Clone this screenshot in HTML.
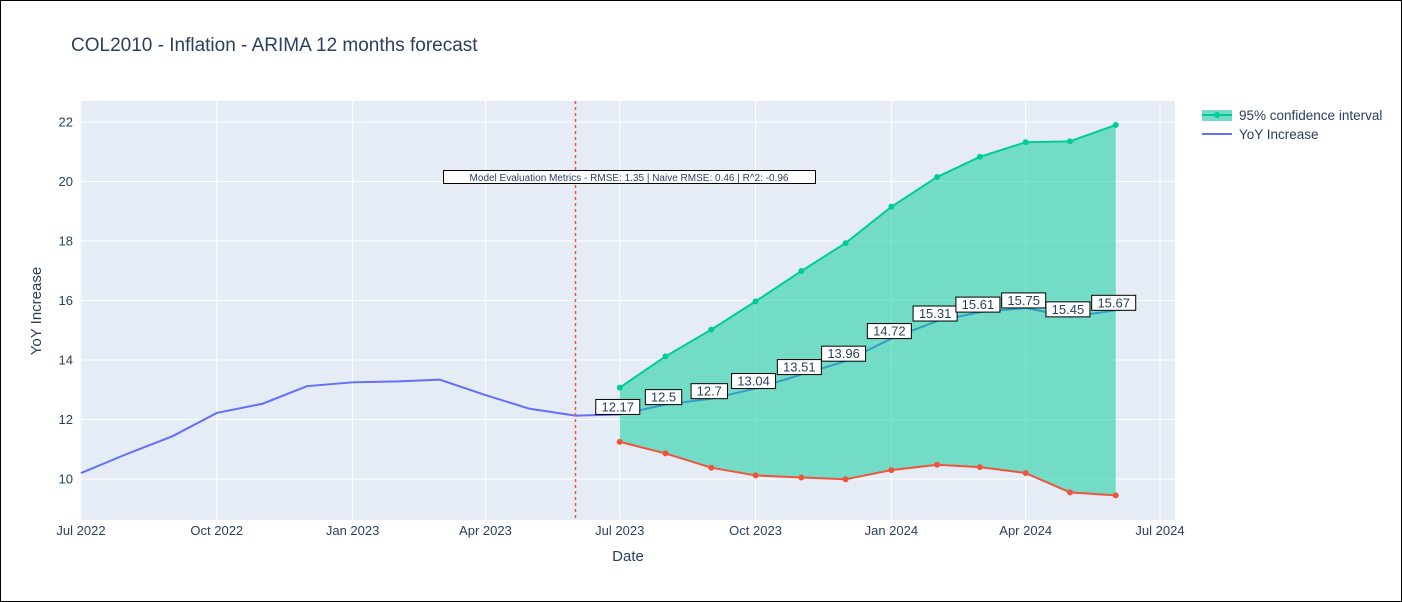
<!DOCTYPE html>
<html><head><meta charset="utf-8"><style>
body{margin:0;background:#fff;}
svg{display:block;font-family:"Liberation Sans",sans-serif;}
</style></head><body>
<svg id="c" width="1402" height="602">
<rect x="0.5" y="0.5" width="1401" height="601" fill="#fff" stroke="#000"/>
<text x="71" y="51" font-size="19" fill="#2a3f5f">COL2010 - Inflation - ARIMA 12 months forecast</text>
<rect x="80" y="101" width="1095" height="419" fill="#e5ecf6"/>
<g id="grid"></g><g id="marks"></g><g id="labels"></g>
<text x="628" y="561" font-size="15" fill="#2a3f5f" text-anchor="middle">Date</text>
<text transform="translate(41,311) rotate(-90)" font-size="15" fill="#2a3f5f" text-anchor="middle">YoY Increase</text>
<g>
<rect x="1202" y="110" width="30" height="11" fill="#72dbc6"/>
<line x1="1202" y1="115" x2="1232" y2="115" stroke="#00cc96" stroke-width="2"/>
<circle cx="1217" cy="115" r="3" fill="#00cc96"/>
<text x="1239" y="120" font-size="13.5" fill="#2a3f5f">95% confidence interval</text>
<line x1="1202" y1="134" x2="1232" y2="134" stroke="#636efa" stroke-width="2"/>
<text x="1239" y="139" font-size="13.5" fill="#2a3f5f">YoY Increase</text>
</g>
</svg>
<script>
const histMonths=["2022-07","2022-08","2022-09","2022-10","2022-11","2022-12","2023-01","2023-02","2023-03","2023-04","2023-05","2023-06"];
const histValues=[10.2,10.84,11.44,12.22,12.53,13.12,13.25,13.28,13.34,12.82,12.36,12.13];
const fcMonths=["2023-07","2023-08","2023-09","2023-10","2023-11","2023-12","2024-01","2024-02","2024-03","2024-04","2024-05","2024-06"];
const fcValues=[12.17,12.5,12.7,13.04,13.51,13.96,14.72,15.31,15.61,15.75,15.45,15.67];
const upper=[13.07,14.12,15.02,15.97,16.99,17.93,19.15,20.15,20.83,21.32,21.35,21.9];
const lower=[11.25,10.86,10.38,10.12,10.05,9.99,10.3,10.48,10.4,10.2,9.55,9.45];
const yTicks=[10,12,14,16,18,20,22];
const xTicks=["2022-07","2022-10","2023-01","2023-04","2023-07","2023-10","2024-01","2024-04","2024-07"];
const xTickLabels=["Jul 2022","Oct 2022","Jan 2023","Apr 2023","Jul 2023","Oct 2023","Jan 2024","Apr 2024","Jul 2024"];
const splitDate="2023-06";
const metricsText="Model Evaluation Metrics - RMSE: 1.35 | Naive RMSE: 0.46 | R^2: -0.96";

const NS="http://www.w3.org/2000/svg";
const t0=Date.UTC(2022,6,1),t1=Date.UTC(2024,6,1);
function X(m){const [y,mo]=m.split("-").map(Number);return 81+(Date.UTC(y,mo-1,1)-t0)/(t1-t0)*1079;}
function Y(v){return 776.5-v*29.75;}
function el(tag,attrs,parent){const e=document.createElementNS(NS,tag);for(const k in attrs)e.setAttribute(k,attrs[k]);parent.appendChild(e);return e;}
const grid=document.getElementById("grid"),marks=document.getElementById("marks"),labels=document.getElementById("labels");
yTicks.forEach(v=>{
 const l=el("line",{x1:80,x2:1175,y1:Y(v),y2:Y(v),stroke:"#fff","stroke-width":1},grid);
 
 
 const t=el("text",{x:73,y:Y(v)+4.5,"font-size":13,fill:"#2a3f5f","text-anchor":"end"},grid);t.textContent=v;
 
 
});
xTicks.forEach((m,i)=>{
 const l=el("line",{x1:X(m),x2:X(m),y1:101,y2:520,stroke:"#fff","stroke-width":1},grid);
 
 
 const t=el("text",{x:X(m),y:535,"font-size":13,fill:"#2a3f5f","text-anchor":"middle"},grid);t.textContent=xTickLabels[i];
 
 
});
const allM=histMonths.concat(fcMonths),allV=histValues.concat(fcValues);
const yoy=el("polyline",{points:allM.map((m,i)=>X(m)+","+Y(allV[i])).join(" "),fill:"none",stroke:"#636efa","stroke-width":2},marks);


const pts=fcMonths.map((m,i)=>X(m)+","+Y(upper[i])).concat(fcMonths.map((m,i)=>X(m)+","+Y(lower[i])).reverse());
const band=el("polygon",{points:pts.join(" "),fill:"rgba(0,204,150,0.5)"},marks);


[[upper,"#00cc96","upper-bound"],[lower,"#ef553b","lower-bound"]].forEach(([arr,c,n])=>{
 const p=el("polyline",{points:fcMonths.map((m,i)=>X(m)+","+Y(arr[i])).join(" "),fill:"none",stroke:c,"stroke-width":2},marks);
 
 
 fcMonths.forEach((m,i)=>{
  const d=el("circle",{cx:X(m),cy:Y(arr[i]),r:3,fill:c},marks);
  
  
 });
});
const sl=el("line",{x1:X(splitDate),x2:X(splitDate),y1:101,y2:520,stroke:"#ef553b","stroke-width":1.5,"stroke-dasharray":"3,3"},marks);


fcMonths.forEach((m,i)=>{
 const s=String(fcValues[i]);const w=s.length*7.6+6;const cx=X(m)-2,by=Y(fcValues[i]);
 const g=el("g",{},labels);
 
 
 el("rect",{x:cx-w/2,y:by-15,width:w,height:15,fill:"#fff",stroke:"#000","stroke-width":1},g);
 const t=el("text",{x:cx,y:by-3,"font-size":13,fill:"#2a3f5f","text-anchor":"middle"},g);t.textContent=s;
});
const mg=el("g",{},labels);


el("rect",{x:443.5,y:170.5,width:372,height:13,fill:"#fff",stroke:"#000","stroke-width":1},mg);
const mt=el("text",{x:629,y:181,"font-size":10,fill:"#2a3f5f","text-anchor":"middle"},mg);mt.textContent=metricsText;
</script>
</body></html>
